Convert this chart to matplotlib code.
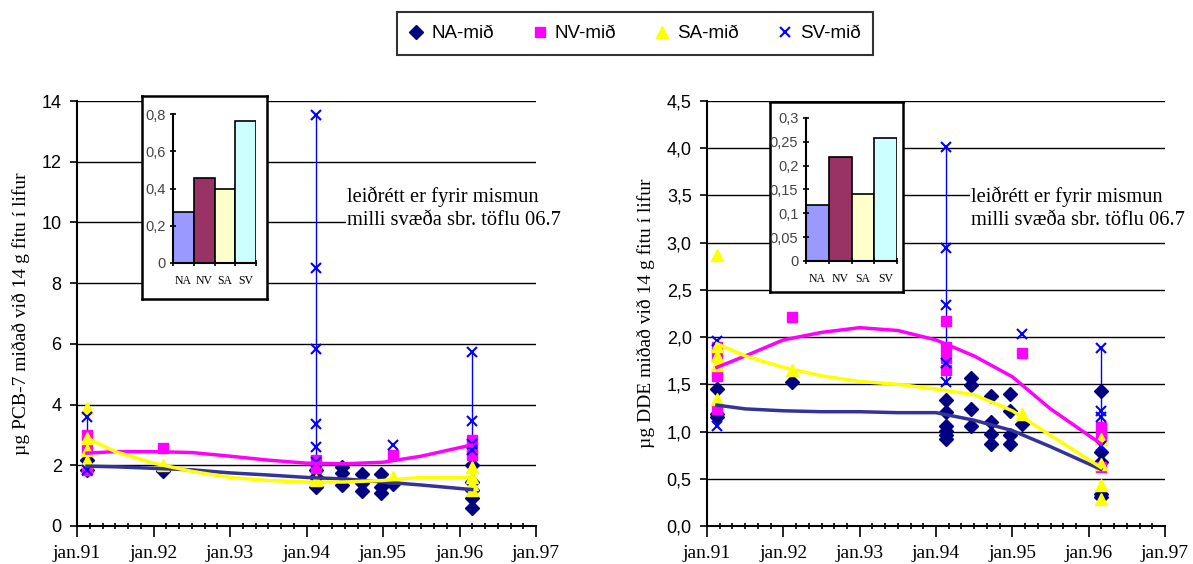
import numpy as np
import matplotlib.pyplot as plt
from matplotlib.lines import Line2D
from matplotlib.ticker import FuncFormatter, MultipleLocator

plt.rcParams['font.family'] = ['Liberation Sans', 'DejaVu Sans']
SERIF = ['Liberation Serif', 'DejaVu Serif']

# sampling dates (decimal years)
t91, t92, t94 = 1991.13, 1992.12, 1994.13
t94b, t94c, t94d = 1994.46, 1994.72, 1994.97
t95, t96 = 1995.13, 1996.16

# PCB-7
pcb_na_x = [t91, t91, t92, t94, t94, t94, t94b, t94b, t94b, t94c, t94c, t94c,
            t94d, t94d, t94d, t95, t96, t96, t96, t96, t96]
pcb_na_y = [2.17, 1.85, 1.8, 1.85, 1.6, 1.3, 1.95, 1.75, 1.35, 1.7, 1.43, 1.15,
            1.7, 1.3, 1.1, 1.4, 2.0, 1.45, 1.2, 0.93, 0.6]
pcb_nv_x = [t91, t91, t91, t92, t94, t94, t95, t96, t96, t96]
pcb_nv_y = [3.0, 2.5, 1.85, 2.57, 2.17, 1.9, 2.33, 2.83, 2.6, 2.33]
pcb_sa_x = [t91, t91, t91, t91, t92, t94, t95, t96, t96, t96, t96]
pcb_sa_y = [3.9, 2.9, 2.5, 2.15, 2.0, 1.5, 1.6, 1.95, 1.6, 1.4, 1.2]
pcb_sv_x = [t91, t91, t94, t94, t94, t94, t94, t94, t95, t96, t96, t96, t96]
pcb_sv_y = [3.6, 1.85, 13.55, 8.5, 5.83, 3.36, 2.6, 2.1, 2.67, 5.73, 3.46, 2.7, 2.5]

# DDE
dde_na_x = [t91, t91, t91, t92, t94, t94, t94, t94, t94, t94,
            t94b, t94b, t94b, t94b, t94c, t94c, t94c, t94c,
            t94d, t94d, t94d, t94d, t95, t96, t96, t96, t96, t96]
dde_na_y = [1.45, 1.19, 1.15, 1.52, 1.33, 1.21, 1.06, 1.01, 0.96, 0.92,
            1.57, 1.49, 1.24, 1.06, 1.38, 1.1, 0.97, 0.87,
            1.40, 1.22, 0.96, 0.87, 1.08, 1.43, 0.78, 0.68, 0.34, 0.31]
dde_nv_x = [t91, t91, t91, t91, t92, t94, t94, t94, t94, t95, t96, t96, t96]
dde_nv_y = [1.9, 1.8, 1.59, 1.24, 2.21, 2.17, 1.9, 1.78, 1.65, 1.83, 1.05, 0.95, 0.62]
dde_sa_x = [t91, t91, t91, t91, t91, t92, t95, t96, t96, t96, t96]
dde_sa_y = [2.87, 1.91, 1.8, 1.71, 1.35, 1.65, 1.19, 0.92, 0.66, 0.43, 0.29]
dde_sv_x = [t91, t91, t94, t94, t94, t94, t94, t95, t96, t96, t96, t96]
dde_sv_y = [1.96, 1.06, 4.01, 2.94, 2.34, 1.73, 1.52, 2.03, 1.89, 1.22, 1.15, 0.85]

# trend curves
trend_x = [1991.13, 1991.5, 1992, 1992.5, 1993, 1993.5, 1994, 1994.5, 1995, 1995.5, 1996.16]
pcb_trend_na = [1.97, 1.95, 1.9, 1.85, 1.75, 1.68, 1.6, 1.55, 1.45, 1.35, 1.2]
pcb_trend_nv = [2.4, 2.45, 2.45, 2.42, 2.3, 2.17, 2.07, 2.05, 2.1, 2.3, 2.67]
pcb_trend_sa = [2.9, 2.45, 2.07, 1.8, 1.6, 1.5, 1.45, 1.45, 1.5, 1.6, 1.6]
dde_trend_na = [1.28, 1.24, 1.22, 1.21, 1.21, 1.2, 1.2, 1.12, 1.01, 0.84, 0.6]
dde_trend_nv = [1.68, 1.8, 1.97, 2.05, 2.1, 2.07, 1.97, 1.8, 1.58, 1.24, 0.87]
dde_trend_sa = [1.93, 1.8, 1.68, 1.59, 1.53, 1.5, 1.45, 1.39, 1.22, 0.96, 0.62]

# area correction factors (insets)
areas = ['NA', 'NV', 'SA', 'SV']
pcb_corr = [0.275, 0.455, 0.395, 0.76]
dde_corr = [0.118, 0.218, 0.14, 0.258]
area_colors = ['#9999ff', '#993366', '#ffffcc', '#ccffff']

year_ticks = [1991, 1992, 1993, 1994, 1995, 1996, 1997]
year_labels = ['jan.91', 'jan.92', 'jan.93', 'jan.94', 'jan.95', 'jan.96', 'jan.97']

NAVY, MAG, YEL, BLUE, TRN = '#000080', '#ff00ff', '#ffff00', '#0000ff', '#333399'

fig = plt.figure(figsize=(11.93, 5.64), dpi=100)


def draw_panel(rect, series, trends, ymax, ystep, fmt, ylabel):
    ax = fig.add_axes(rect)
    (nax, nay), (nvx, nvy), (sax, say), (svx, svy) = series
    # SV range lines at each date
    svx_a, svy_a = np.array(svx), np.array(svy)
    for d in np.unique(svx_a):
        v = svy_a[svx_a == d]
        ax.vlines(d, v.min(), v.max(), color=BLUE, lw=1, zorder=2)
    ax.plot(nax, nay, 'D', color=NAVY, ms=7.5, ls='none', zorder=3)
    ax.plot(nvx, nvy, 's', color=MAG, ms=7, ls='none', zorder=3)
    ax.plot(sax, say, '^', color=YEL, ms=8.5, ls='none', zorder=3)
    ax.plot(svx, svy, 'x', color=BLUE, ms=6.5, mew=1.5, ls='none', zorder=4)
    tna, tnv, tsa = trends
    ax.plot(trend_x, tna, color=TRN, lw=2.5, zorder=5)
    ax.plot(trend_x, tnv, color=MAG, lw=2.5, zorder=5)
    ax.plot(trend_x, tsa, color=YEL, lw=2.5, zorder=5)

    ax.set_xlim(1991, 1997)
    ax.set_ylim(0, ymax)
    ax.set_xticks(year_ticks)
    ax.set_xticklabels(year_labels, family=SERIF, fontsize=14)
    ax.xaxis.set_minor_locator(MultipleLocator(1 / 6))
    ax.tick_params(axis='x', which='major', direction='out', length=8, width=1.2, pad=6)
    ax.tick_params(axis='x', which='minor', direction='inout', length=5, width=1.2)
    ax.yaxis.set_major_locator(MultipleLocator(ystep))
    ax.yaxis.set_major_formatter(FuncFormatter(fmt))
    ax.tick_params(axis='y', direction='out', length=5, width=1.2, labelsize=13, pad=6)
    ax.grid(axis='y', color='black', lw=1)
    ax.set_axisbelow(True)
    for s in ['top', 'right']:
        ax.spines[s].set_visible(False)
    for s in ['left', 'bottom']:
        ax.spines[s].set_linewidth(1.5)
    ax.set_ylabel(ylabel, family=SERIF, fontsize=14, labelpad=8)
    return ax


def draw_inset(box_rect, bar_rect, values, ymax, ystep, fmt):
    box = fig.add_axes(box_rect, zorder=10)
    box.set_xticks([])
    box.set_yticks([])
    for s in box.spines.values():
        s.set_linewidth(1.8)
    ins = fig.add_axes(bar_rect, zorder=11)
    ins.patch.set_alpha(0)
    ins.bar(range(4), values, width=1, color=area_colors, edgecolor='black', lw=1.2)
    ins.set_xlim(-0.5, 3.5)
    ins.set_ylim(0, ymax)
    ins.set_xticks(range(4))
    ins.set_xticklabels(areas, family=SERIF, fontsize=8.5)
    ins.set_xticks(np.arange(-0.5, 4, 1), minor=True)
    ins.tick_params(axis='x', which='major', length=0, pad=9)
    ins.tick_params(axis='x', which='minor', direction='inout', length=5, width=1.2)
    ins.yaxis.set_major_locator(MultipleLocator(ystep))
    ins.yaxis.set_major_formatter(FuncFormatter(fmt))
    ins.tick_params(axis='y', direction='inout', length=5, width=1.2,
                    labelsize=10.5, labelcolor='#444444', pad=3)
    for s in ['top', 'right']:
        ins.spines[s].set_visible(False)
    for s in ['left', 'bottom']:
        ins.spines[s].set_linewidth(1.5)


def comma(v, pos, nd=1):
    return f'{v:.{nd}f}'.replace('.', ',')


W, H = 1193, 564


def frac(x0, y0, x1, y1):
    return [x0 / W, 1 - y1 / H, (x1 - x0) / W, (y1 - y0) / H]


draw_panel(frac(77, 101, 536, 526),
           [(pcb_na_x, pcb_na_y), (pcb_nv_x, pcb_nv_y), (pcb_sa_x, pcb_sa_y), (pcb_sv_x, pcb_sv_y)],
           (pcb_trend_na, pcb_trend_nv, pcb_trend_sa), 14, 2,
           lambda v, p: f'{v:.0f}', 'µg PCB-7 miðað við 14 g fitu í lifur')
draw_panel(frac(707, 101, 1165, 526),
           [(dde_na_x, dde_na_y), (dde_nv_x, dde_nv_y), (dde_sa_x, dde_sa_y), (dde_sv_x, dde_sv_y)],
           (dde_trend_na, dde_trend_nv, dde_trend_sa), 4.5, 0.5,
           lambda v, p: comma(v, p, 1), 'µg DDE miðað við 14 g fitu í lifur')

draw_inset(frac(142, 96, 267, 299), frac(173, 114, 256, 263), pcb_corr, 0.8, 0.2,
           lambda v, p: '0' if v == 0 else comma(v, p, 1))
draw_inset(frac(770, 102, 903, 292), frac(806, 118, 897, 261), dde_corr, 0.3, 0.05,
           lambda v, p: '0' if v == 0 else (comma(v, p, 1) if round(v * 100) % 10 == 0 else comma(v, p, 2)))

note = 'leiðrétt er fyrir mismun\nmilli svæða sbr. töflu 06.7'
for x in (347, 971):
    fig.text(x / W, 1 - 208 / H, note, family=SERIF, fontsize=14.8, va='center', ha='left',
             linespacing=1.3, zorder=20,
             bbox=dict(facecolor='white', edgecolor='none', pad=1))

handles = [Line2D([], [], marker='D', color=NAVY, ls='none', ms=7),
           Line2D([], [], marker='s', color=MAG, ls='none', ms=7),
           Line2D([], [], marker='^', color=YEL, ls='none', ms=8.5),
           Line2D([], [], marker='x', color=BLUE, ls='none', ms=7, mew=1.5)]
leg = fig.legend(handles, ['NA-mið', 'NV-mið', 'SA-mið', 'SV-mið'], ncol=4,
                 loc='upper center', bbox_to_anchor=(635 / W, 1 - 12 / H),
                 fontsize=13.5, frameon=True, fancybox=False, edgecolor='black',
                 handlelength=0.7, handletextpad=0.45, columnspacing=2.1,
                 borderpad=0.7, borderaxespad=0)
leg.get_frame().set_linewidth(1.5)

fig.savefig('out.png', dpi=100)
